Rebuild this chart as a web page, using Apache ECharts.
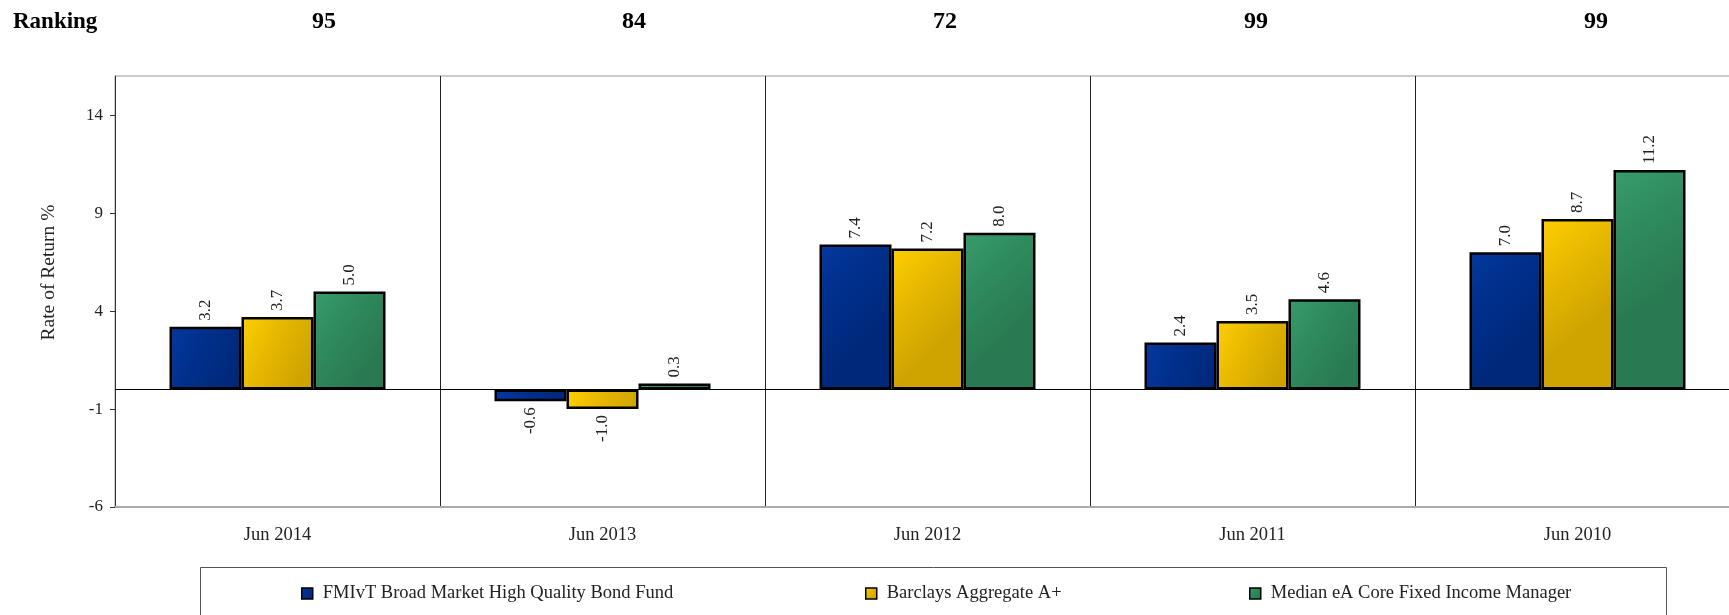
<!DOCTYPE html>
<html>
<head>
<meta charset="utf-8">
<title>Rate of Return</title>
<script src="https://cdn.jsdelivr.net/npm/echarts@6/dist/echarts.min.js"></script>
<style>
  html, body { margin: 0; padding: 0; background: #fff; overflow: hidden; }
  /* plot runs a little past the right edge of the window, as in the original */
  #chart { width: 1740px; height: 615px; }
</style>
</head>
<body>
<div id="chart"></div>
<script>
  // data
  var periods = ['Jun 2014', 'Jun 2013', 'Jun 2012', 'Jun 2011', 'Jun 2010'];
  var rankings = [95, 84, 72, 99, 99];
  var fundName = 'FMIvT Broad Market High Quality Bond Fund';
  var benchName = 'Barclays Aggregate A+';
  var medianName = 'Median eA Core Fixed Income Manager';
  var fundValues = [3.2, -0.6, 7.4, 2.4, 7.0];
  var benchValues = [3.7, -1.0, 7.2, 3.5, 8.7];
  var medianValues = [5.0, 0.3, 8.0, 4.6, 11.2];
  var yTicks = [-6, -1, 4, 9, 14];

  // layout
  var rankX = [324, 634, 945, 1256, 1596];
  var legendLeft = [301, 865, 1249];
  var serif = "'Liberation Serif', 'DejaVu Serif', serif";

  function grad(c1, c2, c3) {
    return {
      type: 'linear', x: 0, y: 0, x2: 1, y2: 0.5,
      colorStops: [{offset: 0, color: c1}, {offset: 0.45, color: c2}, {offset: 1, color: c3}]
    };
  }

  function items(vals) {
    return vals.map(function (v) {
      return {
        value: v,
        label: v < 0 ? {position: 'bottom', align: 'right'} : {position: 'top', align: 'left'}
      };
    });
  }

  var labelStyle = {
    show: true,
    rotate: 90,
    distance: 6,
    verticalAlign: 'middle',
    fontFamily: serif,
    fontSize: 17,
    color: '#222',
    formatter: function (p) { return p.value.toFixed(1); }
  };

  function bar(name, vals, fill) {
    return {
      name: name,
      type: 'bar',
      barWidth: 72,
      barGap: '0%',
      data: items(vals),
      itemStyle: {color: fill, borderColor: '#000', borderWidth: 2.5},
      label: labelStyle
    };
  }

  var series = [
    bar(fundName, fundValues, grad('#0538a0', '#00308c', '#00287a')),
    bar(benchName, benchValues, grad('#ffcf00', '#e8b900', '#cfa400')),
    bar(medianName, medianValues, grad('#389c6d', '#2f8b5e', '#297a52'))
  ];
  series[0].markLine = {
    silent: true,
    symbol: 'none',
    label: {show: false},
    lineStyle: {color: '#000', width: 1.2, type: 'solid'},
    data: [{yAxis: 0}]
  };

  var legends = [fundName, benchName, medianName].map(function (n, i) {
    return {
      data: [n],
      left: legendLeft[i],
      top: 584,
      padding: 0,
      icon: 'rect',
      itemWidth: 11,
      itemHeight: 11,
      itemStyle: {borderColor: '#000', borderWidth: 1.5},
      textStyle: {fontFamily: serif, fontSize: 18.5, color: '#222', padding: [0, 0, 0, 5]},
      selectedMode: false
    };
  });

  var graphics = [
    {
      type: 'rect', silent: true, z: -1,
      shape: {x: 200.5, y: 567.5, width: 1466, height: 60},
      style: {fill: '#fff', stroke: '#555', lineWidth: 1}
    },
    {
      type: 'text', x: 13, y: 22,
      style: {text: 'Ranking', font: 'bold 23px ' + serif, fill: '#000', align: 'left', verticalAlign: 'middle'}
    }
  ];
  rankings.forEach(function (r, i) {
    graphics.push({
      type: 'text', x: rankX[i], y: 22,
      style: {text: String(r), font: 'bold 24px ' + serif, fill: '#000', align: 'center', verticalAlign: 'middle'}
    });
  });

  var chart = echarts.init(document.getElementById('chart'));
  chart.setOption({
    animation: false,
    backgroundColor: '#fff',
    textStyle: {fontFamily: serif},
    grid: {
      left: 115, top: 76, right: 0, bottom: 108,
      show: true, borderColor: '#999', borderWidth: 1
    },
    legend: legends,
    graphic: graphics,
    xAxis: {
      type: 'category',
      data: periods,
      axisLine: {onZero: false, lineStyle: {color: '#aaa', width: 2}},
      axisTick: {show: false},
      axisLabel: {fontFamily: serif, fontSize: 18.5, color: '#222', margin: 19},
      splitLine: {show: true, lineStyle: {color: '#222', width: 1}}
    },
    yAxis: {
      type: 'value',
      min: -6,
      max: 16,
      name: 'Rate of Return %',
      nameLocation: 'middle',
      nameRotate: 90,
      nameGap: 56,
      nameTextStyle: {fontFamily: serif, fontSize: 19.5, color: '#222', padding: [0, 0, 0, 38]},
      axisLine: {show: true, lineStyle: {color: '#333', width: 1}},
      axisTick: {show: true, length: 5, customValues: yTicks, lineStyle: {color: '#333'}},
      axisLabel: {customValues: yTicks, fontFamily: serif, fontSize: 17, color: '#222', margin: 12},
      splitLine: {show: false}
    },
    series: series
  });
</script>
</body>
</html>
